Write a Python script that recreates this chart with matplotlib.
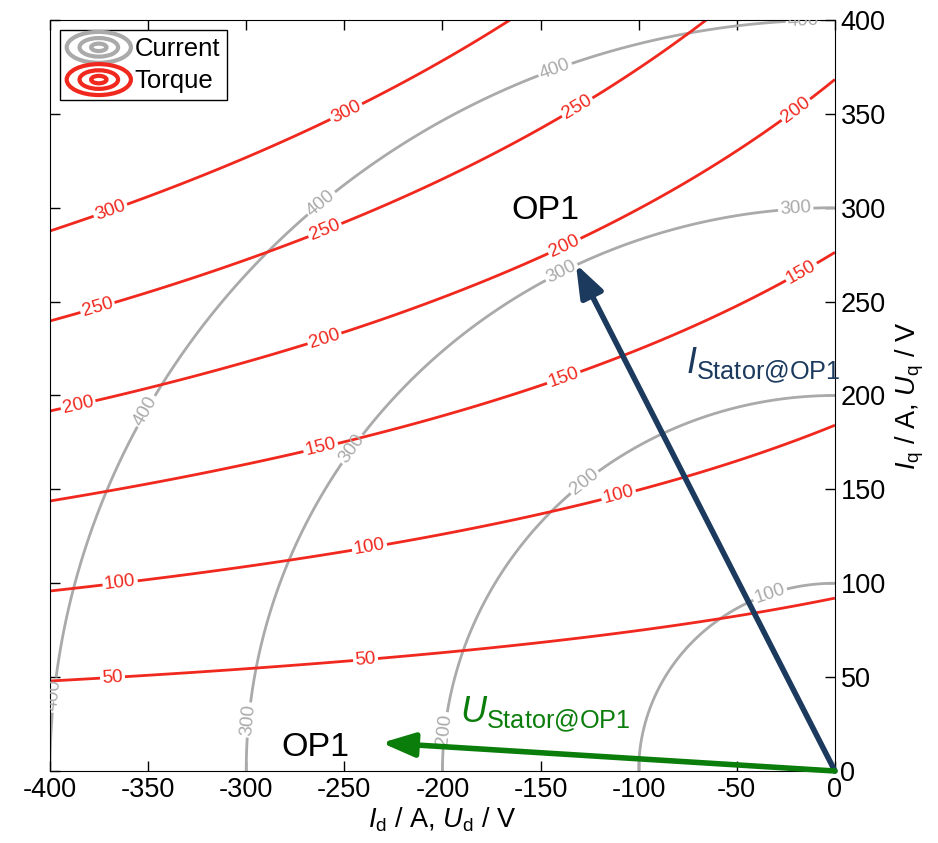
import numpy as np
import matplotlib
matplotlib.use("Agg")
import matplotlib.pyplot as plt
from matplotlib.legend_handler import HandlerBase
from matplotlib.patches import Ellipse
from matplotlib.lines import Line2D

plt.rcParams['font.family'] = ['Liberation Sans', 'DejaVu Sans']
plt.rcParams['mathtext.fontset'] = 'custom'
plt.rcParams['mathtext.rm'] = 'Liberation Sans'
plt.rcParams['mathtext.it'] = 'Liberation Sans:italic'
plt.rcParams['axes.unicode_minus'] = False

# ----------------------------
# Data
# ----------------------------
id_range = [-400, 0]
iq_range = [0, 400]

current_levels = [100, 200, 300, 400]
torque_levels = [50, 100, 150, 200, 250, 300]

# torque model T = iq * (psi - k * id), fitted to the drawn curves
psi = 0.543
k_rel = 0.00125

current_label_pos = [(-16, 397), (-142, 372), (-263, 304), (-350, 191), (-394, 40),
                     (-20, 300), (-140, 267), (-244, 170), (-297, 27),
                     (-127, 153), (-199, 22),
                     (-33, 94)]
torque_label_pos = [(-248, 349), (-368, 295),
                    (-131, 353), (-261, 291), (-375, 244),
                    (-19, 351), (-138, 280), (-260, 230), (-385, 192),
                    (-15, 262), (-138, 209), (-262, 172),
                    (-110, 146), (-237, 118), (-364, 98),
                    (-239, 57), (-368, 47)]

i_stator = (-132, 270)
u_stator = (-231, 15)

x_ticks = [-400, -350, -300, -250, -200, -150, -100, -50, 0]
y_ticks = [0, 50, 100, 150, 200, 250, 300, 350, 400]

gray = '#aaaaaa'
red = '#f0281e'
navy = '#1b3a5e'
green = '#0b7d0b'


class ConcentricHandler(HandlerBase):
    def __init__(self, color):
        super().__init__()
        self.color = color

    def create_artists(self, legend, orig_handle, xdescent, ydescent,
                       width, height, fontsize, trans):
        cx = width / 2 - xdescent
        cy = height / 2 - ydescent
        arts = []
        for f in (1.0, 0.6, 0.24):
            e = Ellipse((cx, cy), width * f, height * 1.45 * f, fill=False,
                        ec=self.color, lw=3.0, transform=trans)
            arts.append(e)
        return arts


fig = plt.figure(figsize=(9.38, 8.43), dpi=100)
ax = fig.add_axes([0.0533, 0.0854, 0.8368, 0.8909])

Id, Iq = np.meshgrid(np.linspace(id_range[0], id_range[1], 801),
                     np.linspace(iq_range[0], iq_range[1], 801))
I_mag = np.hypot(Id, Iq)
T = Iq * (psi - k_rel * Id)

cs_i = ax.contour(Id, Iq, I_mag, levels=current_levels, colors=gray, linewidths=2.0)
cs_t = ax.contour(Id, Iq, T, levels=torque_levels, colors=red, linewidths=2.0)

ax.clabel(cs_i, manual=current_label_pos, inline=True, fmt='%d', fontsize=13.5, inline_spacing=2)
ax.clabel(cs_t, manual=torque_label_pos, inline=True, fmt='%d', fontsize=13.5, inline_spacing=2)

# stator current and voltage vectors
ax.annotate('', xy=i_stator, xytext=(0, 0),
            arrowprops=dict(arrowstyle='-|>,head_length=0.9,head_width=0.33',
                            color=navy, lw=4, mutation_scale=22,
                            shrinkA=0, shrinkB=0), zorder=5)
ax.annotate('', xy=u_stator, xytext=(0, 0),
            arrowprops=dict(arrowstyle='-|>,head_length=0.9,head_width=0.33',
                            color=green, lw=4, mutation_scale=22,
                            shrinkA=0, shrinkB=0), zorder=5)

ax.text(-165, 294, 'OP1', fontsize=24.5, va='baseline', ha='left')
ax.text(-282, 8, 'OP1', fontsize=24.5, va='baseline', ha='left')
ax.text(-76, 212, r'$I_{\mathrm{Stator@OP1}}$', fontsize=26, color=navy,
        va='baseline', ha='left')
ax.text(-191, 26, r'$U_{\mathrm{Stator@OP1}}$', fontsize=26, color=green,
        va='baseline', ha='left')

ax.set_xlim(id_range)
ax.set_ylim(iq_range)
ax.set_xticks(x_ticks)
ax.set_yticks(y_ticks)
ax.tick_params(direction='in', top=True, right=True, left=True, bottom=True,
               labelleft=False, labelright=True, length=7, width=1,
               labelsize=19.5, pad=4)
ax.yaxis.set_label_position('right')
ax.set_xlabel(r'$I_\mathrm{d}$ / A, $U_\mathrm{d}$ / V', fontsize=19.5, labelpad=2)
ax.set_ylabel(r'$I_\mathrm{q}$ / A, $U_\mathrm{q}$ / V', fontsize=19.5, labelpad=6)

h_cur = Line2D([], [], color=gray)
h_tor = Line2D([], [], color=red)
leg = ax.legend([h_cur, h_tor], ['Current', 'Torque'], loc='upper left',
                handler_map={h_cur: ConcentricHandler(gray), h_tor: ConcentricHandler(red)},
                fontsize=18.5, fancybox=False, framealpha=1, edgecolor='black',
                handlelength=2.5, handleheight=0.9, handletextpad=0.15, borderpad=0.25,
                labelspacing=0.3, borderaxespad=0.4)
leg.get_frame().set_linewidth(1.0)

fig.savefig('out.png', dpi=100)
